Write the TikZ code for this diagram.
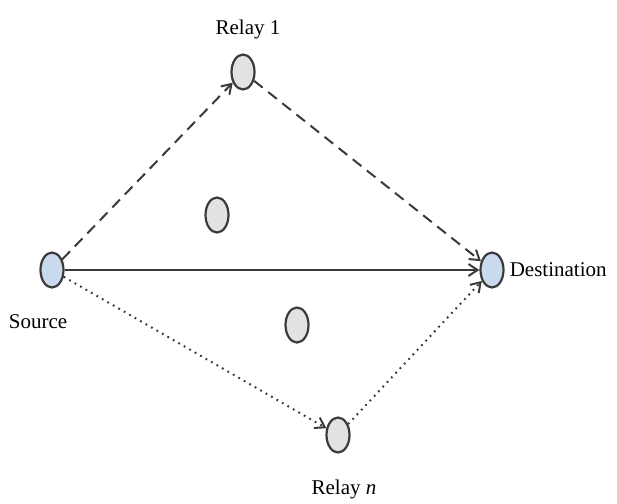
\documentclass[tikz,border=0pt]{standalone}
\usepackage{fontspec}
\setmainfont{Liberation Serif}
\usepackage{tikz}
\usetikzlibrary{arrows.meta,positioning,shapes.geometric}
\definecolor{ink}{HTML}{3A3A3A}
\definecolor{relayfill}{HTML}{E2E2E2}
\definecolor{endfill}{HTML}{C9D9EE}
\tikzset{
  >={Straight Barb[length=3.2mm,width=4.2mm]},
  link/.style={->,line width=2pt,draw=ink},
  dashlink/.style={link,dash pattern=on 11pt off 7pt},
  dotlink/.style={link,dash pattern=on 1.8pt off 4.5pt},
  relay/.style={ellipse,draw=ink,line width=2.2pt,fill=relayfill,
    minimum width=23pt,minimum height=35pt,inner sep=0pt},
  endpoint/.style={relay,fill=endfill},
  tag/.style={font=\fontsize{21}{23}\selectfont,inner sep=1pt}
}
\begin{document}
\begin{tikzpicture}[x=1pt,y=-1pt]
  \useasboundingbox (0,0) rectangle (617,503);
  \node[endpoint] (src) at (52,270) {};
  \node[endpoint] (dst) at (492,270) {};
  \node[relay] (r1) at (243,72) {};
  \node[relay] (rn) at (338,435) {};
  \node[relay] (m1) at (217,215) {};
  \node[relay] (m2) at (297,325) {};
  \node[tag,above=13pt of r1,xshift=5pt] (r1lab) {Relay 1};
  \node[tag,below=25pt of rn,xshift=6pt] (rnlab) {Relay \textit{n}};
  \node[tag,right=4pt of dst] (dstlab) {Destination};
  \node[tag,below=25pt of src,xshift=-14pt] (srclab) {Source};
  \draw[link] (src) -- (dst);
  \draw[dashlink] (src) -- (r1);
  \draw[dashlink] (r1) -- (dst);
  \draw[dotlink] (src) -- (rn);
  \draw[dotlink] (rn) -- (dst);
\end{tikzpicture}
\end{document}
